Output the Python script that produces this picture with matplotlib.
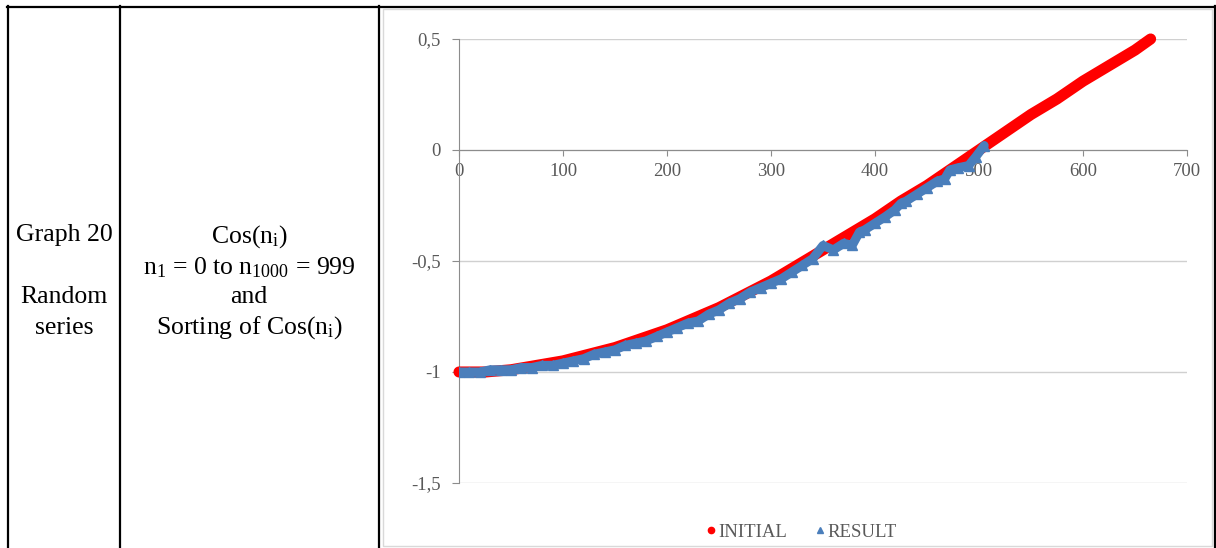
import matplotlib
matplotlib.use("Agg")
import matplotlib.pyplot as plt
from matplotlib.lines import Line2D
from matplotlib.patches import Rectangle

# ---------------- data ----------------
initial_x = [0, 25, 50, 75, 100, 125, 150, 175, 200, 225, 250, 275, 300, 325,
             350, 375, 400, 425, 450, 475, 500, 525, 550, 575, 600, 625, 650, 665]
initial_y = [-1.00, -1.00, -0.99, -0.97, -0.95, -0.92, -0.89, -0.85, -0.81, -0.76,
             -0.71, -0.65, -0.59, -0.52, -0.45, -0.38, -0.31, -0.23, -0.16, -0.08,
             0.00, 0.08, 0.16, 0.23, 0.31, 0.38, 0.45, 0.50]

result_x = [0, 10, 20, 30, 40, 50, 60, 70, 80, 90, 100, 110, 120, 130, 140, 150,
            160, 170, 180, 190, 200, 210, 220, 230, 240, 250, 260, 270, 280, 290,
            300, 310, 320, 330, 340, 350, 360, 370, 378, 385, 390, 400, 410, 419,
            425, 430, 440, 450, 460, 467, 472, 480, 490, 497, 505]
result_y = [-1.00, -1.00, -1.00, -0.99, -0.99, -0.99, -0.98, -0.98, -0.97, -0.97,
            -0.96, -0.95, -0.94, -0.92, -0.91, -0.90, -0.88, -0.87, -0.86, -0.84,
            -0.82, -0.80, -0.78, -0.77, -0.74, -0.72, -0.69, -0.67, -0.64, -0.62,
            -0.60, -0.58, -0.55, -0.52, -0.49, -0.43, -0.45, -0.42, -0.43, -0.37,
            -0.36, -0.33, -0.30, -0.27, -0.24, -0.23, -0.20, -0.17, -0.14, -0.13,
            -0.09, -0.08, -0.07, -0.03, 0.02]

x_ticks = [0, 100, 200, 300, 400, 500, 600, 700]
y_ticks = [0.5, 0, -0.5, -1, -1.5]
y_tick_labels = ["0,5", "0", "-0,5", "-1", "-1,5"]
series_names = ["INITIAL", "RESULT"]

left_lines = ["Graph 20", "", "Random", "series"]
mid_lines = [r"Cos(n$_\mathrm{i}$)", r"n$_\mathrm{1}$ = 0 to n$_\mathrm{1000}$ = 999",
             "and", r"Sorting of Cos(n$_\mathrm{i}$)"]

# ---------------- style ----------------
plt.rcParams["font.family"] = ["Liberation Serif", "DejaVu Serif"]
plt.rcParams["mathtext.fontset"] = "custom"
plt.rcParams["mathtext.rm"] = "Liberation Serif"
plt.rcParams["mathtext.it"] = "Liberation Serif"

RED = "#ff0000"
BLUE = "#4a7ebb"
TXT = "#595959"
GRID = "#d0d0d0"
AX = "#8c8c8c"

W, H = 1216, 548
fig = plt.figure(figsize=(W / 100, H / 100), dpi=100)


def fx(px):
    return px / W


def fy(py):
    return 1 - py / H


# table lines
for x0 in [8, 120, 379, 1215]:
    fig.add_artist(Line2D([fx(x0), fx(x0)], [fy(6), fy(H + 2)], color="black", lw=1.6,
                          transform=fig.transFigure))
fig.add_artist(Line2D([fx(7), fx(1216)], [fy(7), fy(7)], color="black", lw=1.6,
                      transform=fig.transFigure))
# chart frame
fig.add_artist(Rectangle((fx(383), fy(546)), fx(1212) - fx(383), fy(9) - fy(546),
                         fill=False, edgecolor="#d9d9d9", lw=1.0, transform=fig.transFigure))

# table text
for txt, ypx in zip(left_lines, [235, 266, 297, 328]):
    if txt:
        fig.text(fx(64), fy(ypx), txt, ha="center", va="center", fontsize=18.5, color="black")
for txt, ypx in zip(mid_lines, [237, 268, 297, 328]):
    fig.text(fx(249), fy(ypx), txt, ha="center", va="center", fontsize=18.5, color="black")

# chart
ax = fig.add_axes([fx(459), fy(483), fx(1187) - fx(459), fy(39) - fy(483)])
ax.set_xlim(0, 700)
ax.set_ylim(-1.5, 0.5)

ax.plot(initial_x, initial_y, color=RED, lw=8, solid_capstyle="round",
        solid_joinstyle="round", zorder=3, clip_on=False)
ax.plot(result_x, result_y, color=BLUE, lw=6.5, solid_capstyle="round",
        solid_joinstyle="round", zorder=4)
ax.plot(result_x, result_y, ls="none", marker="^", ms=7, color=BLUE, zorder=4)

ax.set_yticks(y_ticks)
ax.set_yticklabels(y_tick_labels)
ax.set_xticks(x_ticks)
ax.set_xticklabels([str(v) for v in x_ticks])
ax.yaxis.grid(True, color=GRID, lw=1.0)
ax.set_axisbelow(True)

for s in ["top", "right"]:
    ax.spines[s].set_visible(False)
ax.spines["bottom"].set_position(("data", 0))
ax.spines["bottom"].set_color(AX)
ax.spines["left"].set_color(AX)
ax.tick_params(axis="x", direction="out", length=4, color=AX, labelcolor=TXT,
               labelsize=13.5, pad=5)
ax.tick_params(axis="y", direction="out", length=5, color=AX, labelcolor=TXT,
               labelsize=13.5, pad=8)

handles = [Line2D([], [], ls="none", marker="o", ms=4.5, color=RED),
           Line2D([], [], ls="none", marker="^", ms=5, color=BLUE)]
fig.legend(handles, series_names, loc="center", bbox_to_anchor=(fx(801), fy(532)),
           ncol=2, frameon=False, fontsize=13.5, labelcolor=TXT, handlelength=0.6,
           handletextpad=0.1, columnspacing=1.4)

fig.savefig("out.png", dpi=100)
